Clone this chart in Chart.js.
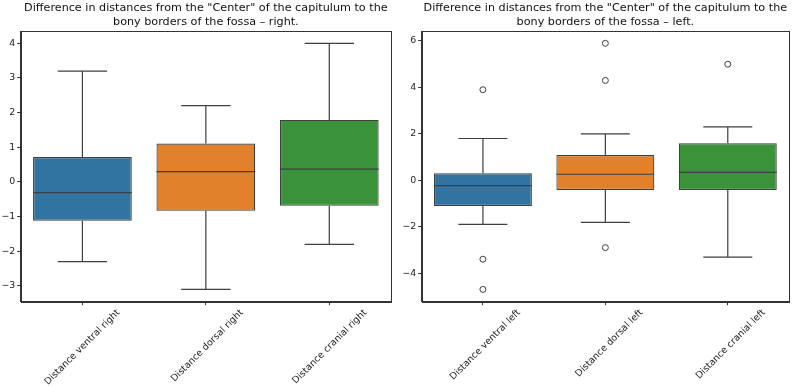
<!DOCTYPE html>
<html>
<head>
<meta charset="utf-8">
<script src="https://cdn.jsdelivr.net/npm/chart.js@4.4.1/dist/chart.umd.min.js"></script>
<style>
  html, body { margin: 0; padding: 0; background: #fff; }
  #wrap { position: relative; width: 794px; height: 386px; }
  .cell { position: absolute; top: 0; width: 397px; height: 386px; }
</style>
</head>
<body>
<div id="wrap">
  <div class="cell" style="left:0"><canvas id="cRight"></canvas></div>
  <div class="cell" style="left:397px"><canvas id="cLeft"></canvas></div>
</div>
<script>
// ---------- DATA ----------
const titleRight = ['Difference in distances from the "Center" of the capitulum to the', 'bony borders of the fossa \u2013 right.'];
const titleLeft  = ['Difference in distances from the "Center" of the capitulum to the', 'bony borders of the fossa \u2013 left.'];

const categoriesRight = ['Distance ventral right', 'Distance dorsal right', 'Distance cranial right'];
const whiskerLowRight  = [-2.3, -3.1, -1.8];
const q1Right          = [-1.12, -0.83, -0.69];
const medianRight      = [-0.31, 0.30, 0.37];
const q3Right          = [0.72, 1.11, 1.79];
const whiskerHighRight = [3.2, 2.2, 4.0];
const outliersRight    = [[], [], []];
const yTicksRight      = [-3, -2, -1, 0, 1, 2, 3, 4];

const categoriesLeft = ['Distance ventral left', 'Distance dorsal left', 'Distance cranial left'];
const whiskerLowLeft  = [-1.9, -1.81, -3.31];
const q1Left          = [-1.11, -0.42, -0.42];
const medianLeft      = [-0.23, 0.26, 0.34];
const q3Left          = [0.30, 1.09, 1.59];
const whiskerHighLeft = [1.8, 2.0, 2.3];
const outliersLeft    = [[3.9, -3.4, -4.7], [5.9, 4.3, -2.9], [5.0]];
const yTicksLeft      = [-4, -2, 0, 2, 4, 6];

const boxColors = ['#3274a1', '#e1812c', '#3a923a'];
const lineColor = '#3f3f3f';

// ---------- helpers ----------
const FONT = 'DejaVu Sans';

const frame = {
  id: 'frame',
  afterDraw(chart) {
    const { ctx, chartArea: a } = chart;
    ctx.save();
    ctx.strokeStyle = '#333';
    ctx.lineWidth = 1;
    ctx.strokeRect(Math.round(a.left) + 0.5, Math.round(a.top) + 0.5,
                   Math.round(a.right - a.left), Math.round(a.bottom - a.top));
    ctx.restore();
  }
};

// whiskers + medians drawn through the chart's own scales
const boxParts = {
  id: 'boxParts',
  afterDatasetsDraw(chart, args, opts) {
    const { ctx } = chart;
    const y = chart.scales.y;
    const meta = chart.getDatasetMeta(0);
    ctx.save();
    ctx.strokeStyle = lineColor;
    ctx.lineWidth = 1.2;
    meta.data.forEach((bar, i) => {
      const cx = bar.x;
      const w = bar.width;
      const yLo = y.getPixelForValue(opts.lo[i]);
      const yHi = y.getPixelForValue(opts.hi[i]);
      const yQ1 = y.getPixelForValue(opts.q1[i]);
      const yQ3 = y.getPixelForValue(opts.q3[i]);
      const yMed = y.getPixelForValue(opts.med[i]);
      ctx.beginPath();
      ctx.moveTo(cx, yQ3); ctx.lineTo(cx, yHi);
      ctx.moveTo(cx - w / 4, yHi); ctx.lineTo(cx + w / 4, yHi);
      ctx.moveTo(cx, yQ1); ctx.lineTo(cx, yLo);
      ctx.moveTo(cx - w / 4, yLo); ctx.lineTo(cx + w / 4, yLo);
      ctx.stroke();
      ctx.beginPath();
      ctx.moveTo(cx - w / 2, yMed); ctx.lineTo(cx + w / 2, yMed);
      ctx.stroke();
    });
    ctx.restore();
  }
};

function fmt(v) {
  return v < 0 ? '\u2212' + Math.abs(v) : String(v);
}

function makeChart(id, title, cats, lo, q1, med, q3, hi, outs, yTicks, pad) {
  const allVals = lo.concat(hi, outs.flat());
  const dMin = Math.min(...allVals), dMax = Math.max(...allVals);
  const margin = (dMax - dMin) * 0.05;

  const outlierData = [];
  outs.forEach((arr, i) => arr.forEach(v => outlierData.push({ x: cats[i], y: v })));

  return new Chart(document.getElementById(id), {
    data: {
      labels: cats,
      datasets: [
        {
          type: 'bar',
          data: cats.map((c, i) => [q1[i], q3[i]]),
          backgroundColor: boxColors,
          borderColor: lineColor,
          borderWidth: 1.2,
          borderSkipped: false,
          barPercentage: 0.8,
          categoryPercentage: 1.0
        },
        {
          type: 'line',
          data: outlierData,
          showLine: false,
          pointRadius: 3,
          pointBorderWidth: 1,
          pointBackgroundColor: '#ffffff',
          pointBorderColor: lineColor
        }
      ]
    },
    options: {
      responsive: false,
      animation: false,
      maintainAspectRatio: false,
      layout: { padding: { left: 0, right: pad.right, top: 0, bottom: 0 } },
      plugins: {
        legend: { display: false },
        tooltip: { enabled: false },
        title: {
          display: true,
          text: title,
          fullSize: false,
          color: '#111',
          font: { family: FONT, size: 11.2, weight: 'normal', lineHeight: 1.25 },
          padding: { top: 1.5, bottom: 1.5 }
        },
        boxParts: { lo, q1, med, q3, hi }
      },
      scales: {
        x: {
          type: 'category',
          offset: true,
          grid: { display: true, offset: false, drawOnChartArea: false, drawTicks: true, tickLength: 3.5, tickColor: '#333', tickWidth: 1 },
          border: { display: true, color: '#333', width: 1 },
          ticks: {
            autoSkip: false,
            minRotation: 45,
            maxRotation: 45,
            labelOffset: 36,
            padding: 2,
            color: '#222',
            font: { family: FONT, size: 9.4 }
          },
          afterFit(s) { s.height = 386 - 301.7; }
        },
        y: {
          type: 'linear',
          min: dMin - margin,
          max: dMax + margin,
          grid: { display: true, drawOnChartArea: false, drawTicks: true, tickLength: 3.5, tickColor: '#333', tickWidth: 1 },
          border: { display: true, color: '#333', width: 1 },
          ticks: {
            padding: 2,
            color: '#222',
            font: { family: FONT, size: 9.4 },
            callback: v => fmt(v)
          },
          afterBuildTicks(s) { s.ticks = yTicks.map(v => ({ value: v })); },
          afterFit(s) { s.width = pad.left; }
        }
      }
    },
    plugins: [frame, boxParts]
  });
}

function sizeCanvas(id) {
  const c = document.getElementById(id);
  c.width = 397; c.height = 386;
  c.style.width = '397px'; c.style.height = '386px';
}
sizeCanvas('cRight');
sizeCanvas('cLeft');

makeChart('cRight', titleRight, categoriesRight, whiskerLowRight, q1Right, medianRight, q3Right, whiskerHighRight, outliersRight, yTicksRight, { left: 20.7, right: 6 });
makeChart('cLeft', titleLeft, categoriesLeft, whiskerLowLeft, q1Left, medianLeft, q3Left, whiskerHighLeft, outliersLeft, yTicksLeft, { left: 24.7, right: 2.3 });
</script>
</body>
</html>
